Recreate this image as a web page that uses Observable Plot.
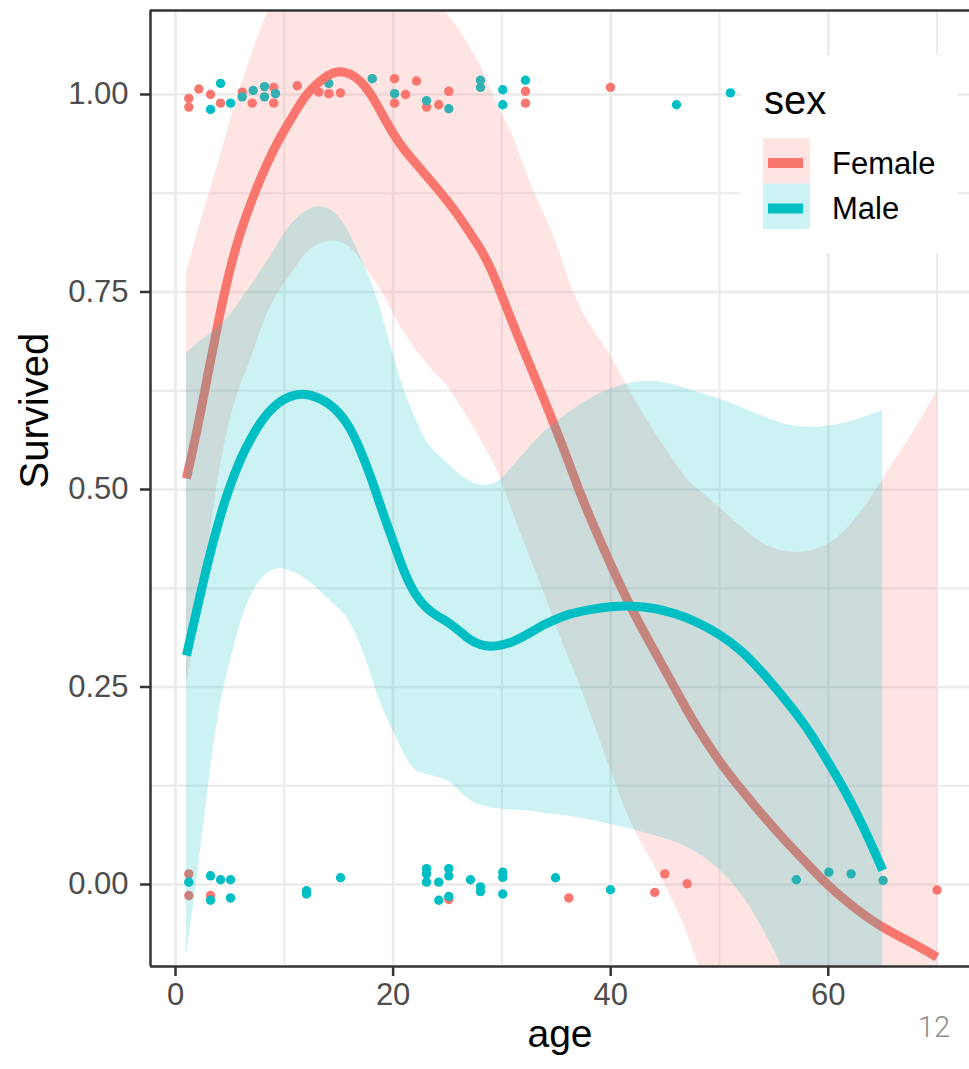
<!DOCTYPE html>
<html><head><meta charset="utf-8">
<script src="https://cdn.jsdelivr.net/npm/d3@7"></script>
<script src="https://cdn.jsdelivr.net/npm/@observablehq/plot@0.6"></script>
<style>
body{margin:0;background:#fff;}
#wrap{position:relative;width:969px;height:1069px;overflow:hidden;font-family:"Liberation Sans",Arial,sans-serif;}
#legend{position:absolute;left:741px;top:55px;width:217px;height:198px;background:#fff;}
#page{position:absolute;left:918px;top:1010px;font-family:Roboto,"Liberation Sans",sans-serif;font-size:29px;color:#8c8c8c;font-weight:300;}
</style></head><body>
<div id="wrap"><div id="chart"></div><div id="legend"></div><div id="page">12</div></div>
<script>
const sexes = ["Female", "Male"];
const colors = ["#F8766D", "#00BFC4"];
const legendTitle = "sex";
const xLabel = "age";
const yLabel = "Survived";
const xTicks = [0, 20, 40, 60];
const xMinor = [10, 30, 50, 70];
const yTicks = [0, 0.25, 0.5, 0.75, 1];
const yMinor = [0.125, 0.375, 0.625, 0.875];
const xDomain = [-2.3, 72.98];
const yDomain = [-0.1038, 1.1063];

// Female smooth
const femaleAges  = [1,2,3,4,5,6,7,8,9,10,11,12,13,14,15,16,17,18,19,20,21,22,23,24,25,26,27,28,29,30,31,32,33,34,35,36,37,38,39,40,41,42,43,44,45,46,47,48,50,52,54,56,58,60,62,64,66,68,70];
const femaleFit   = [0.514,0.575,0.648,0.718,0.78,0.828,0.866,0.90,0.93,0.955,0.978,1.0,1.014,1.025,1.03,1.027,1.018,1.0,0.975,0.95,0.93,0.914,0.898,0.882,0.865,0.847,0.826,0.806,0.78,0.745,0.71,0.676,0.643,0.61,0.575,0.54,0.502,0.468,0.436,0.405,0.375,0.347,0.321,0.296,0.271,0.246,0.221,0.197,0.155,0.12,0.087,0.056,0.027,-0.002,-0.025,-0.046,-0.062,-0.076,-0.092];
const femaleUpper = [0.773,0.825,0.87,0.915,0.965,1.01,1.05,1.09,1.12,1.148,1.175,1.2,1.22,1.235,1.245,1.245,1.24,1.23,1.2,1.18,1.16,1.15,1.135,1.12,1.1,1.085,1.06,1.04,1.005,0.975,0.95,0.91,0.875,0.845,0.815,0.77,0.735,0.71,0.69,0.67,0.643,0.62,0.595,0.573,0.553,0.532,0.512,0.5,0.478,0.452,0.43,0.42,0.42,0.428,0.452,0.49,0.535,0.575,0.625];
const femaleLower = [0.25,0.33,0.425,0.525,0.59,0.635,0.665,0.71,0.74,0.76,0.78,0.80,0.81,0.815,0.815,0.808,0.792,0.77,0.752,0.722,0.70,0.678,0.661,0.645,0.632,0.61,0.588,0.565,0.54,0.512,0.47,0.435,0.40,0.365,0.328,0.29,0.26,0.222,0.183,0.145,0.107,0.074,0.048,0.024,0.0,-0.028,-0.06,-0.1,-0.17,-0.22,-0.26,-0.31,-0.37,-0.43,-0.5,-0.58,-0.66,-0.73,-0.81];

// Male smooth
const maleAges  = [1,2,3,4,5,6,7,8,9,10,11,12,13,14,15,16,17,18,19,20,21,22,23,24,25,26,27,28,29,30,31,32,33,34,35,36,38,40,42,44,46,48,50,52,54,56,58,60,62,64,65];
const maleFit   = [0.29,0.35,0.41,0.462,0.505,0.54,0.567,0.589,0.605,0.615,0.62,0.621,0.617,0.61,0.598,0.58,0.55,0.515,0.472,0.435,0.395,0.367,0.35,0.34,0.333,0.322,0.31,0.303,0.301,0.303,0.307,0.314,0.322,0.33,0.336,0.342,0.348,0.352,0.353,0.35,0.343,0.332,0.317,0.297,0.268,0.235,0.20,0.155,0.108,0.05,0.018];
const maleUpper = [0.672,0.685,0.695,0.706,0.72,0.74,0.758,0.78,0.80,0.825,0.842,0.853,0.859,0.857,0.847,0.825,0.795,0.765,0.722,0.67,0.625,0.592,0.56,0.545,0.533,0.52,0.51,0.505,0.505,0.512,0.53,0.545,0.56,0.575,0.585,0.596,0.615,0.628,0.636,0.638,0.632,0.623,0.615,0.604,0.592,0.582,0.578,0.58,0.585,0.595,0.60];
const maleLower = [-0.09,0.005,0.125,0.225,0.28,0.335,0.37,0.39,0.40,0.40,0.395,0.387,0.375,0.362,0.35,0.335,0.305,0.265,0.222,0.195,0.165,0.142,0.14,0.136,0.133,0.12,0.106,0.1,0.097,0.095,0.094,0.094,0.092,0.09,0.088,0.087,0.082,0.076,0.07,0.062,0.054,0.041,0.02,-0.01,-0.055,-0.11,-0.18,-0.27,-0.37,-0.49,-0.56];

// Jittered observations [age, survived]
const femalePoints = [[1.22,0.995],[1.22,0.984],[2.14,1.007],[3.22,1.0],[4.14,0.989],[6.13,1.003],[7.05,0.989],[9.03,1.009],[9.03,0.989],[11.19,1.011],[13.17,1.003],[14.09,1.001],[15.17,1.002],[20.13,1.02],[20.13,0.989],[21.14,1.0],[22.15,1.017],[23.07,0.984],[24.2,0.987],[25.12,1.004],[32.17,1.004],[32.17,0.989],[39.98,1.009],
  [1.22,0.0135],[1.22,-0.014],[3.22,-0.014],[25.12,-0.019],[36.15,-0.017],[44.05,-0.01],[44.97,0.0135],[47.03,0.001],[70.0,-0.007]];
const malePoints = [[4.14,1.014],[3.22,0.981],[5.06,0.989],[6.13,0.997],[7.14,1.005],[8.18,1.01],[8.18,0.997],[9.19,1.001],[14.09,1.014],[18.08,1.02],[20.13,1.001],[23.07,0.992],[25.12,0.982],[28.03,1.018],[28.03,1.009],[30.08,1.006],[30.08,0.987],[32.17,1.018],[46.05,0.987],[51.0,1.002],
  [1.22,0.003],[3.22,0.011],[3.22,-0.02],[4.14,0.006],[5.06,0.006],[5.06,-0.017],[12.04,-0.008],[12.04,-0.012],[15.17,0.0085],[23.07,0.02],[23.07,0.0135],[23.07,0.003],[24.2,0.003],[24.2,-0.02],[25.12,0.02],[25.12,0.011],[25.12,-0.015],[27.11,0.006],[28.03,-0.003],[28.03,-0.009],[30.08,0.0156],[30.08,0.009],[30.08,-0.012],[34.93,0.0085],[39.98,-0.0067],[57.06,0.006],[60.05,0.0156],[62.1,0.0135],[65.04,0.005]];

const fem = femaleAges.map((a, i) => ({age: a, fit: femaleFit[i], lo: femaleLower[i], hi: femaleUpper[i]}));
const mal = maleAges.map((a, i) => ({age: a, fit: maleFit[i], lo: maleLower[i], hi: maleUpper[i]}));

const grid = "#EBEBEB";
const chart = Plot.plot({
  width: 969, height: 1069,
  marginLeft: 150, marginRight: 0, marginTop: 10, marginBottom: 103,
  x: {domain: xDomain},
  y: {domain: yDomain},
  style: {fontFamily: '"Liberation Sans", Arial, sans-serif', background: "white", overflow: "visible"},
  marks: [
    Plot.gridX(xMinor, {stroke: grid, strokeOpacity: 1, strokeWidth: 2}),
    Plot.gridY(yMinor, {stroke: grid, strokeOpacity: 1, strokeWidth: 2}),
    Plot.gridX(xTicks, {stroke: grid, strokeOpacity: 1, strokeWidth: 2.6}),
    Plot.gridY(yTicks, {stroke: grid, strokeOpacity: 1, strokeWidth: 2.6}),
    Plot.dot(femalePoints, {x: d => d[0], y: d => d[1], r: 4.7, fill: colors[0]}),
    Plot.dot(malePoints, {x: d => d[0], y: d => d[1], r: 4.7, fill: colors[1]}),
    Plot.areaY(fem, {x: "age", y1: "lo", y2: "hi", fill: colors[0], fillOpacity: 0.2, curve: "basis", clip: true}),
    Plot.line(fem, {x: "age", y: "fit", stroke: colors[0], strokeWidth: 9, strokeLinecap: "butt", curve: "basis", clip: true}),
    Plot.areaY(mal, {x: "age", y1: "lo", y2: "hi", fill: colors[1], fillOpacity: 0.2, curve: "basis", clip: true}),
    Plot.line(mal, {x: "age", y: "fit", stroke: colors[1], strokeWidth: 9, strokeLinecap: "butt", curve: "basis", clip: true}),
    Plot.ruleX([xDomain[0]], {stroke: "#333", strokeWidth: 2.5}),
    Plot.ruleY(yDomain, {stroke: "#333", strokeWidth: 2.5}),
    Plot.axisX({ticks: xTicks, tickSize: 10, tickPadding: 6, fontSize: 31, stroke: "#333", strokeWidth: 2.5, fill: "#4D4D4D", label: null}),
    Plot.axisY({ticks: yTicks, tickFormat: d3.format(".2f"), tickSize: 10, tickPadding: 12, fontSize: 31, stroke: "#333", strokeWidth: 2.5, fill: "#4D4D4D", label: null}),
    Plot.text([xLabel], {text: d => d, frameAnchor: "bottom", dy: 80, fontSize: 39, fill: "black"}),
    Plot.text([yLabel], {text: d => d, frameAnchor: "left", dx: -115, rotate: -90, fontSize: 40, fill: "black"})
  ]
});
document.getElementById("chart").appendChild(chart);

// Legend
const ns = "http://www.w3.org/2000/svg";
const lsvg = document.createElementNS(ns, "svg");
lsvg.setAttribute("width", 217); lsvg.setAttribute("height", 198);
lsvg.style.fontFamily = '"Liberation Sans", Arial, sans-serif';
function el(tag, attrs, txt) {
  const e = document.createElementNS(ns, tag);
  for (const k in attrs) e.setAttribute(k, attrs[k]);
  if (txt != null) e.textContent = txt;
  lsvg.appendChild(e);
  return e;
}
el("text", {x: 23, y: 59, "font-size": 40, fill: "black"}, legendTitle);
sexes.forEach((s, i) => {
  const top = 83 + i * 45.5;
  el("rect", {x: 22, y: top, width: 47, height: 45.5, fill: colors[i], "fill-opacity": 0.2});
  el("line", {x1: 27, x2: 62, y1: top + 25, y2: top + 25, stroke: colors[i], "stroke-width": 10});
  el("text", {x: 91, y: top + 25, "font-size": 31, fill: "black", "dominant-baseline": "central"}, s);
});
document.getElementById("legend").appendChild(lsvg);
</script>
</body></html>
